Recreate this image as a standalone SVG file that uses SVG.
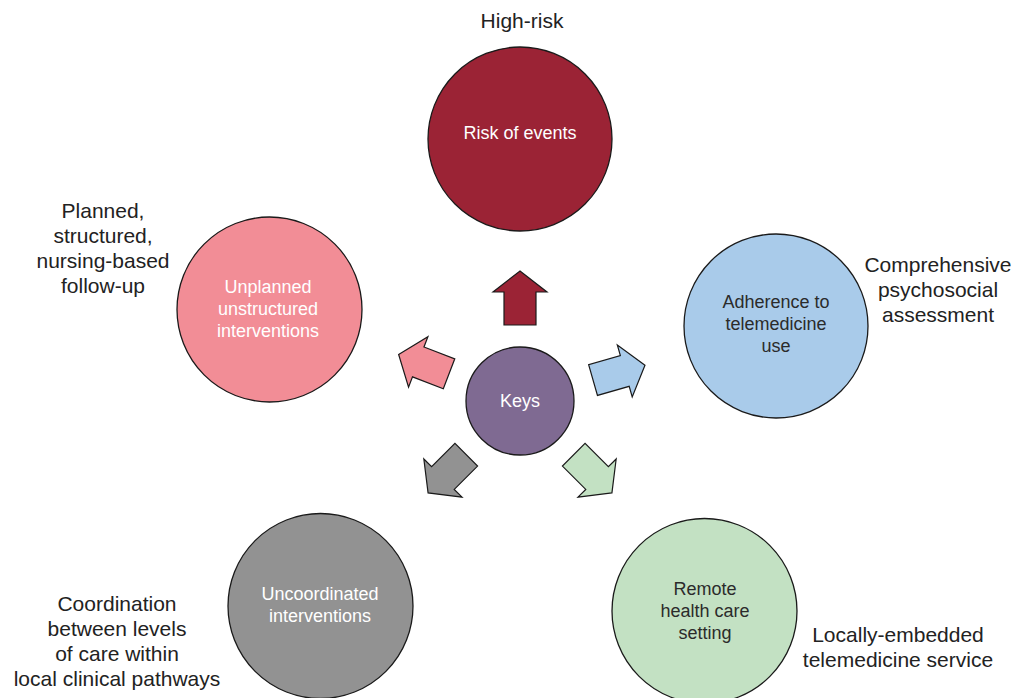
<svg xmlns="http://www.w3.org/2000/svg" width="1014" height="698" viewBox="0 0 1014 698">
<style>
text{font-family:"Liberation Sans",Arial,sans-serif;text-anchor:middle}
.in{font-size:18px}
.w{fill:#ffffff}
.d{fill:#2b2b2b}
.out{font-size:21px;fill:#222222}
.c{stroke:#1a1a1a;stroke-width:1.3}
.a{stroke:#1a1a1a;stroke-width:1.2;stroke-linejoin:miter}
</style>
<defs>
<path id="arr" d="M0,-130 L27,-109 L16,-109 L16,-76 L-16,-76 L-16,-109 L-27,-109 Z"/>
</defs>
<rect width="1014" height="698" fill="#ffffff"/>
<g id="connectors">
<use href="#arr" class="a" fill="#9b2335" transform="translate(520,401)"/>
<use href="#arr" class="a" fill="#a9cbea" transform="translate(520,401) rotate(74)"/>
<use href="#arr" class="a" fill="#c3e1c3" transform="translate(520,401) rotate(135)"/>
<use href="#arr" class="a" fill="#929292" transform="translate(520,401) rotate(225)"/>
<use href="#arr" class="a" fill="#f28d96" transform="translate(520,401) rotate(-69)"/>
</g>
<g id="keys">
<circle class="c" cx="520" cy="401" r="54" fill="#7f6a92"/>
<text class="in w" x="520" y="407">Keys</text>
</g>
<g id="risk">
<circle class="c" cx="520" cy="139" r="92" fill="#9b2335"/>
<text class="in w" x="520" y="139">Risk of events</text>
<text class="out" x="522" y="28">High-risk</text>
</g>
<g id="adherence">
<circle class="c" cx="776" cy="326" r="92" fill="#a9cbea"/>
<text class="in d" x="776" y="308">Adherence to</text>
<text class="in d" x="776" y="330">telemedicine</text>
<text class="in d" x="776" y="352">use</text>
<text class="out" x="938" y="272">Comprehensive</text>
<text class="out" x="938" y="297">psychosocial</text>
<text class="out" x="938" y="322">assessment</text>
</g>
<g id="remote">
<circle class="c" cx="704.5" cy="611" r="92.5" fill="#c3e1c3"/>
<text class="in d" x="705" y="595">Remote</text>
<text class="in d" x="705" y="617">health care</text>
<text class="in d" x="705" y="639">setting</text>
<text class="out" x="898" y="642">Locally-embedded</text>
<text class="out" x="898" y="667">telemedicine service</text>
</g>
<g id="uncoordinated">
<circle class="c" cx="320.5" cy="606" r="92.5" fill="#929292"/>
<text class="in w" x="320" y="600">Uncoordinated</text>
<text class="in w" x="320" y="622">interventions</text>
<text class="out" x="117" y="611">Coordination</text>
<text class="out" x="117" y="636">between levels</text>
<text class="out" x="117" y="661">of care within</text>
<text class="out" x="117" y="686">local clinical pathways</text>
</g>
<g id="unplanned">
<circle class="c" cx="269.5" cy="309.5" r="92.5" fill="#f28d96"/>
<text class="in w" x="268" y="293">Unplanned</text>
<text class="in w" x="268" y="315">unstructured</text>
<text class="in w" x="268" y="337">interventions</text>
<text class="out" x="103" y="218">Planned,</text>
<text class="out" x="103" y="243">structured,</text>
<text class="out" x="103" y="268">nursing-based</text>
<text class="out" x="103" y="293">follow-up</text>
</g>
</svg>
